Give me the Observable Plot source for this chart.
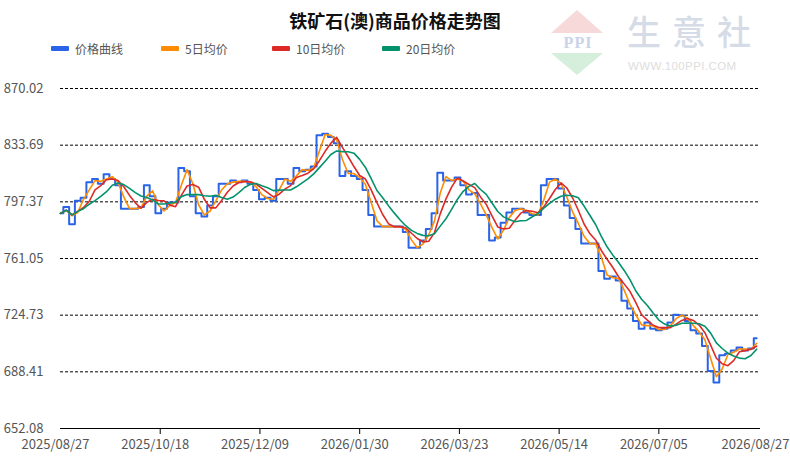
<!DOCTYPE html>
<html>
<head>
<meta charset="utf-8">
<script src="https://cdn.jsdelivr.net/npm/d3@7"></script>
<script src="https://cdn.jsdelivr.net/npm/@observablehq/plot@0.6"></script>
<style>
  body { margin: 0; background: #fff; }
  #wrap { position: relative; width: 790px; height: 458px; overflow: hidden; font-family: 'Noto Sans CJK SC', 'Noto Sans', sans-serif; }
  .abs { position: absolute; }
  .title { left: 0; top: 7px; width: 790px; text-align: center; font-size: 18px; font-weight: bold; color: #111; line-height: 26px; }
  .sw { width: 18px; height: 5px; top: 46px; border-radius: 1px; }
  .lt { top: 41px; font-size: 12px; line-height: 16px; color: #555; white-space: nowrap; }
  #chart { position: absolute; left: 0; top: 70px; }
</style>
</head>
<body>
<div id="wrap">
  <!-- watermark -->
  <div class="abs" style="left:551px;top:10px;width:0;height:0;border-left:26px solid transparent;border-right:26px solid transparent;border-bottom:23px solid #f7d9d9;"></div>
  <div class="abs" style="left:552px;top:33px;width:52px;text-align:center;font:bold 16px 'Liberation Serif',serif;line-height:20px;color:#cad3e8;letter-spacing:1px;">PPI</div>
  <div class="abs" style="left:551px;top:53px;width:0;height:0;border-left:26px solid transparent;border-right:26px solid transparent;border-top:22px solid #d6eedc;"></div>
  <div class="abs" style="left:627px;top:10px;font-size:34px;line-height:42px;font-weight:500;color:#d6dce7;letter-spacing:11px;white-space:nowrap;">生意社</div>
  <div class="abs" style="left:628px;top:59px;font-size:11.5px;line-height:14px;color:#dddddd;letter-spacing:0.4px;white-space:nowrap;font-family:'Liberation Sans',sans-serif;">WWW.100PPI.COM</div>

  <div class="abs title">铁矿石(澳)商品价格走势图</div>
  <div id="legend"></div>
  <div id="chart"></div>
</div>
<script>
// ---- data ----
const seriesNames = ["价格曲线", "5日均价", "10日均价", "20日均价"];
const seriesColors = ["#2964e8", "#ff8c00", "#de2a26", "#03926c"];

const xTickLabels = ["2025-08-27", "2025-10-18", "2025-12-09", "2026-01-30", "2026-03-23", "2026-05-14", "2026-07-05", "2026-08-27"];
const yTickLabels = [652.08, 688.41, 724.73, 761.05, 797.37, 833.69, 870.02];

const dates = [
  "2025-08-27","2025-08-30","2025-09-02","2025-09-05","2025-09-08","2025-09-11","2025-09-14","2025-09-17","2025-09-20","2025-09-23",
  "2025-09-26","2025-09-29","2025-10-02","2025-10-05","2025-10-08","2025-10-11","2025-10-14","2025-10-17","2025-10-20","2025-10-23",
  "2025-10-26","2025-10-29","2025-11-01","2025-11-04","2025-11-07","2025-11-10","2025-11-13","2025-11-16","2025-11-19","2025-11-22",
  "2025-11-25","2025-11-28","2025-12-01","2025-12-04","2025-12-07","2025-12-10","2025-12-13","2025-12-16","2025-12-19","2025-12-22",
  "2025-12-25","2025-12-28","2025-12-31","2026-01-03","2026-01-06","2026-01-09","2026-01-12","2026-01-15","2026-01-18","2026-01-21",
  "2026-01-24","2026-01-27","2026-01-30","2026-02-02","2026-02-05","2026-02-08","2026-02-11","2026-02-14","2026-02-17","2026-02-20",
  "2026-02-23","2026-02-26","2026-03-01","2026-03-04","2026-03-07","2026-03-10","2026-03-13","2026-03-16","2026-03-19","2026-03-22",
  "2026-03-25","2026-03-28","2026-03-31","2026-04-03","2026-04-06","2026-04-09","2026-04-12","2026-04-15","2026-04-18","2026-04-21",
  "2026-04-24","2026-04-27","2026-04-30","2026-05-03","2026-05-06","2026-05-09","2026-05-12","2026-05-15","2026-05-18","2026-05-21",
  "2026-05-24","2026-05-27","2026-05-30","2026-06-02","2026-06-05","2026-06-08","2026-06-11","2026-06-14","2026-06-17","2026-06-20",
  "2026-06-23","2026-06-26","2026-06-29","2026-07-02","2026-07-05","2026-07-08","2026-07-11","2026-07-14","2026-07-17","2026-07-20",
  "2026-07-23","2026-07-26","2026-07-29","2026-08-01","2026-08-04","2026-08-07","2026-08-10","2026-08-13","2026-08-16","2026-08-19",
  "2026-08-22","2026-08-25"
];

const price = [
  790, 794, 783, 798, 800, 810, 812, 809, 815, 812,
  808, 793, 793, 793, 794, 808, 801, 790, 793, 797,
  797, 819, 817, 801, 790, 788, 795, 801, 809, 809,
  811, 810, 811, 809, 805, 799, 800, 798, 812, 812,
  809, 819, 817, 818, 820, 840, 841, 839, 835, 814,
  817, 814, 812, 805, 789, 781.5, 781.5, 781.5, 781.5, 781.5,
  778, 768, 768, 772.6, 780, 790, 816, 811, 811, 813,
  808, 802, 803, 789, 789, 772.6, 774.5, 784, 790.5, 793,
  793, 790.5, 789, 789, 808, 812, 812, 806, 795, 787,
  780, 770.6, 770.6, 770.6, 753, 748, 749.5, 747, 734, 729,
  721, 716, 720, 716, 715, 716, 720, 725, 724.5, 721,
  715, 713, 705, 689, 681.5, 699, 700, 702, 704, 702,
  703.4, 710
];

// moving-average windows (in samples of the series above)
const maWindows = [2, 4, 7];

// ---- legend ----
const legendPos = [[51, 75], [161, 185], [272, 296], [382, 406]];
const legend = document.getElementById("legend");
seriesNames.forEach((name, i) => {
  const sw = document.createElement("div");
  sw.className = "abs sw";
  sw.style.left = legendPos[i][0] + "px";
  sw.style.background = seriesColors[i];
  legend.appendChild(sw);
  const t = document.createElement("div");
  t.className = "abs lt";
  t.style.left = legendPos[i][1] + "px";
  t.textContent = name;
  legend.appendChild(t);
});

// ---- chart ----
const rows = dates.map((d, i) => ({date: new Date(d), price: price[i]}));
const xTicks = xTickLabels.map(d => new Date(d));
const innerTicks = xTicks.slice(1, -1);
const fmt = d3.utcFormat("%Y/%m/%d");

const maMarks = maWindows.map((k, i) =>
  Plot.lineY(rows, Plot.windowY({k, anchor: "end", reduce: "mean"},
    {x: "date", y: "price", stroke: seriesColors[i + 1], strokeWidth: 1.6}))
);

const chart = Plot.plot({
  width: 790,
  height: 388,
  marginTop: 18,
  marginBottom: 30,
  marginLeft: 60,
  marginRight: 30,
  style: {fontFamily: "'Noto Sans CJK SC', 'Noto Sans', sans-serif", fontSize: "13px", color: "#555", background: "transparent"},
  x: {type: "utc", domain: [xTicks[0], xTicks[xTicks.length - 1]]},
  y: {domain: [yTickLabels[0], yTickLabels[yTickLabels.length - 1]]},
  marks: [
    Plot.gridY(yTickLabels.slice(1), {stroke: "#000", strokeOpacity: 1, strokeWidth: 1, strokeDasharray: "3,2"}),
    Plot.ruleY([yTickLabels[0]], {stroke: "#000", strokeWidth: 1.2}),
    Plot.axisY(yTickLabels, {tickSize: 0, tickPadding: 17, tickFormat: d => d.toFixed(2), label: null}),
    Plot.axisX(innerTicks, {tickSize: 6, stroke: "#000", text: null, label: null}),
    Plot.axisX(xTicks, {tickSize: 0, tickPadding: 11, dx: -5, tickFormat: fmt, label: null}),
    Plot.lineY(rows, {x: "date", y: "price", stroke: seriesColors[0], strokeWidth: 2, curve: "step"}),
    ...maMarks
  ]
});
document.getElementById("chart").appendChild(chart);
</script>
</body>
</html>
